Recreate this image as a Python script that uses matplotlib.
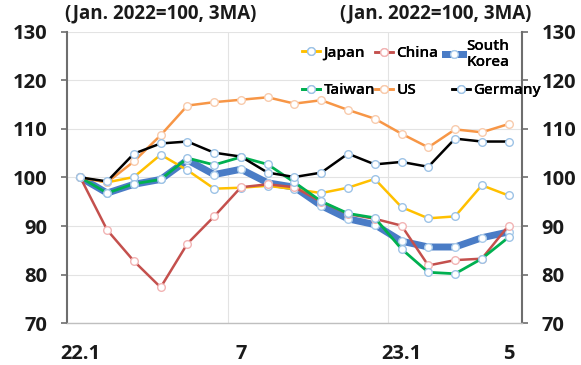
import numpy as np
import matplotlib.pyplot as plt

# Monthly index, Jan. 2022 = 100, 3-month moving average (22.1 .. 23.5)
months = np.arange(17)
tick_pos = [0, 6, 12, 16]
tick_labels = ['22.1', '7', '23.1', '5']

japan = [100, 99.0, 100.1, 104.7, 101.5, 97.7, 97.9, 98.3, 97.6, 96.8, 97.9, 99.7, 93.9, 91.6, 92.0, 98.4, 96.3]
china = [100, 89.2, 82.8, 77.4, 86.4, 92.0, 98.0, 98.6, 98.0, 95.0, 92.5, 91.5, 90.1, 81.9, 83.0, 83.3, 90.1]
korea = [100, 96.8, 98.6, 99.6, 103.6, 100.6, 101.7, 98.9, 98.0, 94.2, 91.5, 90.3, 86.9, 85.7, 85.7, 87.6, 88.8]
taiwan = [100, 96.8, 98.7, 99.6, 104.0, 102.6, 104.2, 102.7, 99.0, 95.1, 92.6, 91.7, 85.3, 80.5, 80.2, 83.3, 87.7]
us = [100, 99.0, 103.3, 108.7, 114.8, 115.5, 116.0, 116.5, 115.2, 115.9, 113.9, 112.1, 109.0, 106.2, 109.9, 109.3, 111.0]
germany = [100, 99.2, 104.9, 107.0, 107.4, 105.1, 104.3, 101.0, 100.1, 101.0, 104.9, 102.7, 103.2, 102.2, 108.0, 107.4, 107.4]

plt.rcParams['font.family'] = ['Open Sans', 'DejaVu Sans']

fig = plt.figure(figsize=(5.81, 3.65), dpi=100)
ax = fig.add_axes([0.1153, 0.1142, 0.7831, 0.799])

mk = dict(marker='o', markersize=5.5, markerfacecolor='white', markeredgewidth=1.0)
l_kor, = ax.plot(months, korea, color='#4A7CC6', lw=5, markeredgecolor='#A9CBEA', zorder=2, **mk)
l_jpn, = ax.plot(months, japan, color='#FFC000', lw=1.8, markeredgecolor='#9DC3E6', zorder=3, **mk)
l_chn, = ax.plot(months, china, color='#C4504D', lw=1.8, markeredgecolor='#F2B4B4', zorder=3, **mk)
l_twn, = ax.plot(months, taiwan, color='#00B050', lw=2.0, markeredgecolor='#9DC3E6', zorder=4, **mk)
l_us, = ax.plot(months, us, color='#F79646', lw=1.8, markeredgecolor='#F8CBAD', zorder=4, **mk)
l_ger, = ax.plot(months, germany, color='black', lw=1.8, markeredgecolor='#9DC3E6', zorder=5, **mk)

ax.set_xlim(-0.5, 16.5)
ax.set_ylim(70, 130)
ax.set_yticks(range(70, 131, 10))
ax.set_xticks(tick_pos)
ax.set_xticklabels(tick_labels)
ax.set_xticks([5.5, 11.5], minor=True)

ax.grid(axis='y', color='#E3E3E3', lw=0.8)
ax.grid(axis='x', which='minor', color='#E3E3E3', lw=0.8)
ax.set_axisbelow(True)

for side in ['left', 'right']:
    ax.spines[side].set_color('#6E6E6E')
    ax.spines[side].set_linewidth(1.5)
ax.spines['top'].set_visible(False)
ax.spines['bottom'].set_color('#BFBFBF')
ax.spines['bottom'].set_linewidth(1.0)

ax.tick_params(axis='y', which='major', left=True, right=True, labelleft=True, labelright=True,
               direction='out', length=4, width=1.2, color='#6E6E6E', pad=10,
               labelsize=14.5, labelcolor='#1A1A1A')
ax.tick_params(axis='x', which='both', length=0, pad=15, labelsize=14.5, labelcolor='#1A1A1A')
for tick in ax.xaxis.get_major_ticks() + ax.yaxis.get_major_ticks():
    tick.label1.set_fontweight('bold')
    tick.label2.set_fontweight('bold')

fig.text(0.112, 0.962, '(Jan. 2022=100, 3MA)', ha='left', va='center', fontsize=13.5, fontweight='bold', color='#1A1A1A')
fig.text(0.914, 0.962, '(Jan. 2022=100, 3MA)', ha='right', va='center', fontsize=13.5, fontweight='bold', color='#1A1A1A')

# legend laid out as a fixed grid of entries
entries = [
    (l_jpn, 'Japan', 302, 53),
    (l_chn, 'China', 375, 53),
    (l_kor, 'South\nKorea', 445, 54),
    (l_twn, 'Taiwan', 302, 90),
    (l_us, 'US', 375, 90),
    (l_ger, 'Germany', 452, 90),
]
for handle, label, px, py in entries:
    leg = fig.legend([handle], [label], loc='center left',
                     bbox_to_anchor=(px / 581, 1 - py / 365),
                     frameon=False, handlelength=1.2, handletextpad=0.2,
                     borderpad=0, borderaxespad=0, labelspacing=0,
                     prop={'size': 11, 'weight': 'semibold'})
    fig.add_artist(leg)

fig.savefig('out.png', dpi=100)
